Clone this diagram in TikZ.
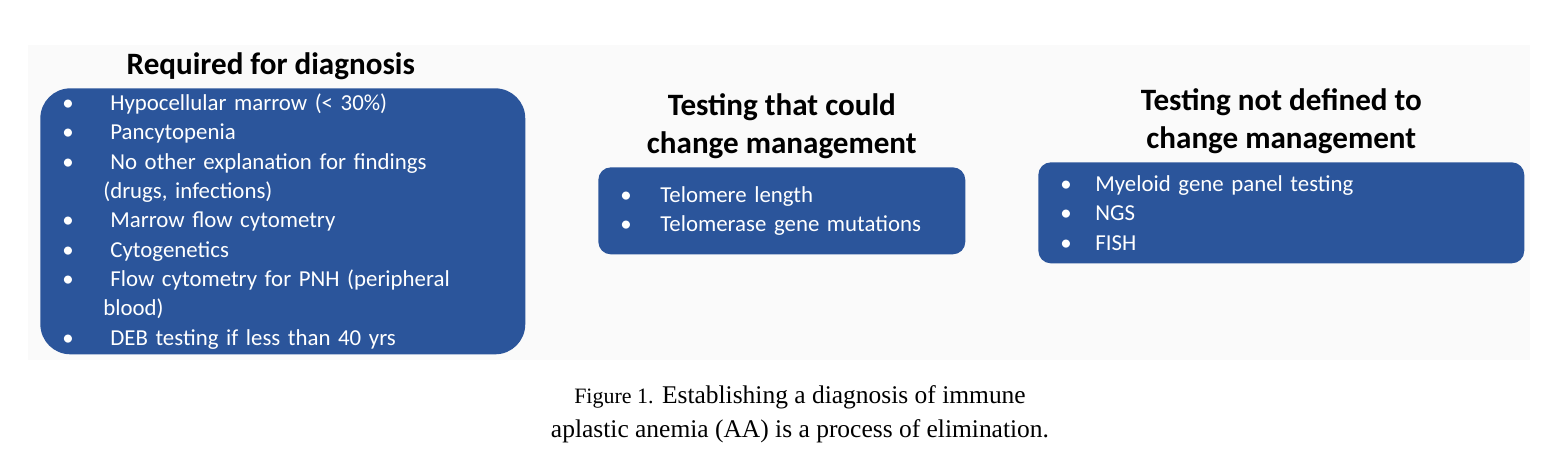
\documentclass[tikz,border=0pt]{standalone}
\usepackage{fontspec}
\setmainfont{Carlito}
\newfontfamily\capfont{Liberation Serif}
\usetikzlibrary{positioning}
\definecolor{boxblue}{RGB}{43,85,155}
\definecolor{panelgray}{RGB}{250,250,250}
\newcommand{\itemdot}[1][0.96cm]{\makebox[#1][l]{\textbullet}}
\tikzset{
	every node/.style={
		font=\fontsize{13}{16.7}\selectfont
	},
	listbox/.style={
		shape=rectangle,
		fill=boxblue,
		text=white,
		align=left,
		anchor=north west,
		inner xsep=0.44cm,
		inner ysep=0pt,
		rounded corners=0.25cm
	},
	heading/.style={
		font=\fontsize{17.7}{21.5}\selectfont\bfseries,
		align=center,
		inner sep=0pt
	},
	caption/.style={
		font=\capfont\fontsize{14.5}{19.4}\selectfont,
		align=center
	}
}

\begin{document}
\begin{tikzpicture}[x=0.02cm,y=-0.02cm]
	\useasboundingbox (0,0) rectangle (1557,469);
	
	\fill[panelgray] (28,45) rectangle (1530,360);
	
	\node[listbox, text width=8.82cm, minimum height=5.32cm, rounded corners=0.6cm] (req) at (40,88) {%
		\itemdot Hypocellular marrow (< 30\%)\\
		\itemdot Pancytopenia\\
		\itemdot No other explanation for findings\\
		\hspace*{0.82cm}(drugs, infections)\\
		\itemdot Marrow flow cytometry\\
		\itemdot Cytogenetics\\
		\itemdot Flow cytometry for PNH (peripheral\\
		\hspace*{0.82cm}blood)\\
		\itemdot DEB testing if less than 40 yrs};
	
	\node[listbox, text width=6.46cm, minimum height=1.74cm] (could) at (598,167) {%
		\itemdot[0.8cm]Telomere length\\
		\itemdot[0.8cm]Telomerase gene mutations};
	
	\node[listbox, text width=8.84cm, minimum height=2.02cm] (notdef) at (1038,162) {%
		\itemdot[0.7cm]Myeloid gene panel testing\\
		\itemdot[0.7cm]NGS\\
		\itemdot[0.7cm]FISH};
	
	\node[heading, above=0.15cm of req, xshift=-0.24cm] (reqtitle) {Required for diagnosis};
	\node[heading, above=0.16cm of could] (couldtitle) {Testing that could\\change management};
	\node[heading, above=0.16cm of notdef] (notdeftitle) {Testing not defined to\\change management};
	
	\node[caption] (cap) at (800,414) {{\fontsize{12.5}{19.4}\selectfont Figure 1.} Establishing a diagnosis of immune\\aplastic anemia (AA) is a process of elimination.};
	
\end{tikzpicture}
\end{document}
